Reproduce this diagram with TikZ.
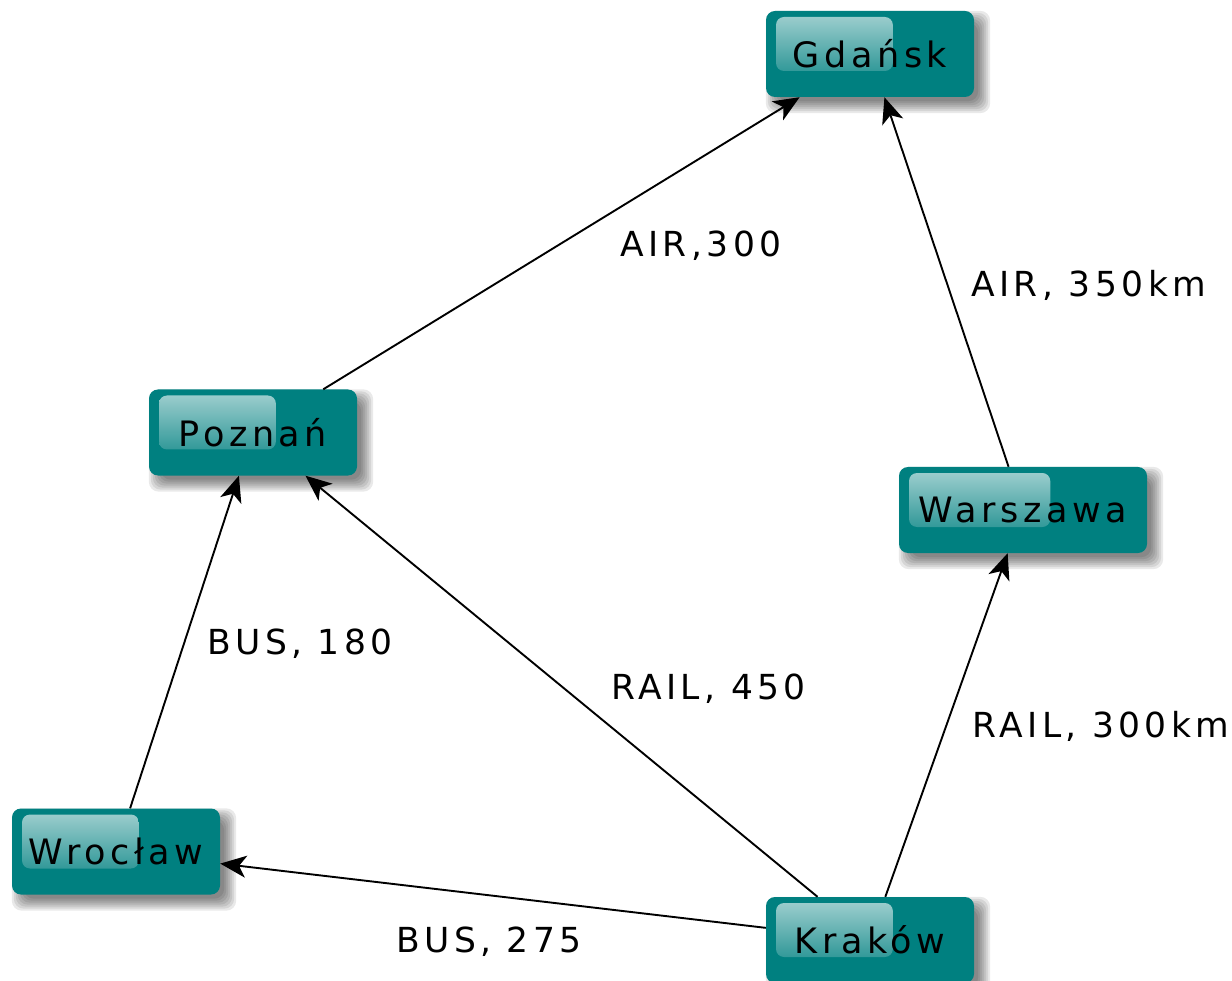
\documentclass[tikz,border=0pt]{standalone}
\usepackage{fontspec}
\setmainfont{DejaVu Sans}[LetterSpace=13]
\usetikzlibrary{arrows.meta,backgrounds,calc}
\definecolor{boxteal}{RGB}{0,128,128}
\definecolor{hilite}{RGB}{165,210,210}
\tikzset{
  city/.style={rectangle, rounded corners=9pt, fill=boxteal, minimum width=208pt,
    minimum height=86pt, inner sep=0pt, font=\fontsize{35}{40}\selectfont, text=black,
    path picture={\shade[top color=hilite, bottom color=boxteal, rounded corners=8pt]
      ($(path picture bounding box.north west)+(10pt,-6pt)$) rectangle
      ($(path picture bounding box.north west)!0.61!(path picture bounding box.north east)+(0pt,-60pt)$);}},
  link/.style={-{Stealth[length=26pt,width=22pt,inset=7pt]}, line width=1.9pt, black},
  elabel/.style={anchor=base west, inner sep=0pt, font=\fontsize{34.5}{40}\selectfont},
  shadowlayer/.style={black, opacity=0.085, rounded corners=10pt},
}
\begin{document}
\begin{tikzpicture}[x=1pt, y=-1pt]
\useasboundingbox (0,0) rectangle (1232,981);
% cities
\node[city] (gd) at (870,54) {Gdańsk};
\node[city] (po) at (253,432.5) {Poznań};
\node[city] (wr) at (116,851.5) {Wrocław};
\node[city] (kr) at (870,940) {Kraków};
\node[city, minimum width=248pt] (wa) at (1023,510) {Warszawa};
% shadows
\begin{scope}[on background layer]
  \foreach \n in {gd,po,wr,kr,wa}{
    \foreach \g in {-4,-2,0,2,4,6,8}{
      \fill[shadowlayer] ($(\n.north west)+({8-\g},{8-\g})$) rectangle ($(\n.south east)+({8+\g},{8+\g})$);
    }
  }
\end{scope}
% connectors
\draw[link] (po) -- (gd);
\draw[link] (wa) -- (gd);
\draw[link] (kr) -- (wa);
\draw[link] (kr) -- (po);
\draw[link] (wr) -- (po);
\draw[link] (kr) -- (wr);
% labels
\node[elabel] (l1) at (620,257) {AIR,300};
\node[elabel] (l2) at (971,297) {AIR, 350km};
\node[elabel] (l3) at (972,737) {RAIL, 300km};
\node[elabel] (l4) at (611,699) {RAIL, 450};
\node[elabel] (l5) at (207,654) {BUS, 180};
\node[elabel] (l6) at (396,952) {BUS, 275};
\end{tikzpicture}
\end{document}
